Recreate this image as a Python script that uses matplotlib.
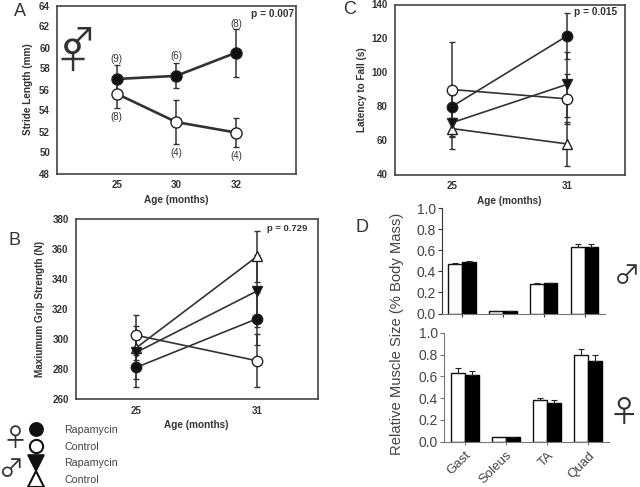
import matplotlib
matplotlib.use("Agg")
import matplotlib.pyplot as plt
from matplotlib.lines import Line2D
import numpy as np

plt.rcParams['font.family'] = ['Liberation Sans', 'DejaVu Sans']

W, H = 640, 487

# panel A
a_ages = ["25", "30", "32"]
a_rapa = [57.0, 57.3, 59.5]
a_rapa_err = [1.3, 1.2, 2.3]
a_ctrl = [55.6, 52.9, 51.9]
a_ctrl_err = [1.4, 2.1, 1.4]
a_rapa_n = ["(9)", "(6)", "(8)"]
a_rapa_n_y = [58.9, 59.2, 62.25]
a_ctrl_n = ["(8)", "(4)", "(4)"]
a_ctrl_n_y = [53.4, 50.0, 49.7]

# panels B and C
ages = ["25", "31"]
b_rapa_f = [281, 313.5]
b_rapa_f_err = [13, 17.5]
b_ctrl_f = [302.5, 285.5]
b_ctrl_f_err = [13.5, 17.5]
b_rapa_m = [291, 332]
b_rapa_m_err = [17.5, 24]
b_ctrl_m = [294, 355]
b_ctrl_m_err = [8, 17]

c_rapa_f = [80, 121.5]
c_rapa_f_err = [7, 13.5]
c_ctrl_f = [90, 84.5]
c_ctrl_f_err = [28, 14.5]
c_rapa_m = [70.5, 93]
c_rapa_m_err = [8, 19]
c_ctrl_m = [67, 58]
c_ctrl_m_err = [12, 13]

# panel D
muscles = ["Gast", "Soleus", "TA", "Quad"]
d_m_ctrl = [0.47, 0.025, 0.28, 0.635]
d_m_ctrl_err = [0.01, 0.003, 0.005, 0.02]
d_m_rapa = [0.49, 0.025, 0.285, 0.635]
d_m_rapa_err = [0.012, 0.003, 0.006, 0.025]
d_f_ctrl = [0.635, 0.04, 0.38, 0.80]
d_f_ctrl_err = [0.045, 0.003, 0.025, 0.05]
d_f_rapa = [0.615, 0.04, 0.36, 0.74]
d_f_rapa_err = [0.04, 0.003, 0.025, 0.06]

DARK = "#333333"
SYM = "Noto Sans CJK JP"


def px_axes(fig, left, top, right, bottom):
    return fig.add_axes([left / W, 1 - bottom / H, (right - left) / W, (bottom - top) / H])


def ptext(fig, x, y, s, **kw):
    kw.setdefault("ha", "center")
    kw.setdefault("va", "center")
    kw.setdefault("color", DARK)
    fig.text(x / W, 1 - y / H, s, **kw)


def series(ax, y, err, marker, face, lw=1.2, ms=7.5):
    x = np.arange(len(y))
    ax.errorbar(x, y, yerr=err, fmt="-", marker=marker, color=DARK, mfc=face, mec="#222222",
                mew=1.0, ms=ms, lw=lw, elinewidth=1.1, capsize=2.5, capthick=1.0)


def line_panel(ax, labels, ylim, yticks, ylabel, xlim, label_x):
    ax.set_xlim(*xlim)
    ax.set_ylim(*ylim)
    ax.set_xticks(range(len(labels)))
    ax.set_xticklabels(labels)
    ax.set_yticks(yticks)
    ax.tick_params(length=0, labelsize=7, labelcolor=DARK, pad=5)
    for lab in ax.get_xticklabels() + ax.get_yticklabels():
        lab.set_fontweight("bold")
    for s in ax.spines.values():
        s.set_color("#444444")
        s.set_linewidth(1.2)
    ax.set_ylabel(ylabel, fontsize=7.2, fontweight="bold", color=DARK)
    ax.yaxis.set_label_coords(label_x, 0.5)
    ax.set_xlabel("Age (months)", fontsize=7.2, fontweight="bold", color=DARK, labelpad=3)


def bar_panel(ax, ctrl, ctrl_err, rapa, rapa_err, xlim, show_labels, col):
    x = np.arange(len(muscles))
    w = 0.34
    ax.bar(x - w / 2, ctrl, w, color="white", edgecolor="#111111", lw=1.0,
           yerr=[np.zeros(4), ctrl_err], error_kw=dict(ecolor="#222222", elinewidth=0.8, capsize=2.2, capthick=0.8))
    ax.bar(x + w / 2, rapa, w, color="black", edgecolor="black", lw=1.0,
           yerr=[np.zeros(4), rapa_err], error_kw=dict(ecolor="#222222", elinewidth=0.8, capsize=2.2, capthick=0.8))
    ax.set_xlim(*xlim)
    ax.set_ylim(0, 1)
    ax.set_yticks(np.arange(0, 1.01, 0.2))
    ax.set_xticks(x)
    ax.spines["top"].set_visible(False)
    ax.spines["right"].set_visible(False)
    ax.spines["left"].set_color(col)
    ax.spines["bottom"].set_color("#777777")
    ax.tick_params(axis="y", labelsize=10, labelcolor="#444444", color=col, length=3, pad=1.5)
    ax.tick_params(axis="x", color=col, length=2)
    if show_labels:
        ax.set_xticklabels(muscles, rotation=45, ha="right", rotation_mode="anchor",
                           fontsize=9.5, color="#444444")
    else:
        ax.set_xticklabels([])


fig = plt.figure(figsize=(W / 100, H / 100), dpi=100)

# A
ax = px_axes(fig, 57, 5.5, 295.5, 173.5)
series(ax, a_rapa, a_rapa_err, "o", "#111111", lw=1.9, ms=8)
series(ax, a_ctrl, a_ctrl_err, "o", "white", lw=1.9, ms=8)
for i in range(3):
    ax.text(i, a_rapa_n_y[i], a_rapa_n[i], ha="center", va="center", fontsize=7, color=DARK)
    ax.text(i, a_ctrl_n_y[i], a_ctrl_n[i], ha="center", va="center", fontsize=7, color=DARK)
line_panel(ax, a_ages, (48, 64), np.arange(48, 65, 2), "Stride Length (mm)", (-1, 3), -24 / 238.5)
ax.text(0.995, 0.95, "p = 0.007", transform=ax.transAxes, ha="right", va="center",
        fontsize=7.3, fontweight="bold", color=DARK)

# C
ax = px_axes(fig, 394.5, 4.5, 624.5, 174.5)
series(ax, c_ctrl_f, c_ctrl_f_err, "o", "white")
series(ax, c_rapa_f, c_rapa_f_err, "o", "#111111")
series(ax, c_ctrl_m, c_ctrl_m_err, "^", "white")
series(ax, c_rapa_m, c_rapa_m_err, "v", "#111111")
line_panel(ax, ages, (40, 140), np.arange(40, 141, 20), "Latency to Fall (s)", (-0.5, 1.5), -27.5 / 230)
ax.text(0.97, 0.955, "p = 0.015", transform=ax.transAxes, ha="right", va="center",
        fontsize=7.3, fontweight="bold", color=DARK)

# B
ax = px_axes(fig, 75.5, 219, 317.5, 399)
series(ax, b_ctrl_m, b_ctrl_m_err, "^", "white")
series(ax, b_rapa_m, b_rapa_m_err, "v", "#111111")
series(ax, b_rapa_f, b_rapa_f_err, "o", "#111111")
series(ax, b_ctrl_f, b_ctrl_f_err, "o", "white")
line_panel(ax, ages, (260, 380), np.arange(260, 381, 20), "Maxiumum Grip Strength (N)", (-0.5, 1.5), -30.5 / 242)
ax.text(0.96, 0.95, "p = 0.729", transform=ax.transAxes, ha="right", va="center",
        fontsize=6.8, fontweight="bold", color=DARK)

# D
ax = px_axes(fig, 442, 208, 605, 313.5)
bar_panel(ax, d_m_ctrl, d_m_ctrl_err, d_m_rapa, d_m_rapa_err, (-0.48, 3.5), False, "#333333")
ax = px_axes(fig, 444, 333, 609, 441.7)
bar_panel(ax, d_f_ctrl, d_f_ctrl_err, d_f_rapa, d_f_rapa_err, (-0.51, 3.5), True, "#777777")
ptext(fig, 397, 334, "Relative Muscle Size (% Body Mass)", rotation=90, fontsize=10.6, color="#444444")

# panel letters and sex symbols
ptext(fig, 20, 12, "A", fontsize=13)
ptext(fig, 350, 10, "C", fontsize=13)
ptext(fig, 15, 241, "B", fontsize=13)
ptext(fig, 362, 228, "D", fontsize=13)
ptext(fig, 77.5, 43.4, "\u2642", fontsize=26, family=SYM)
ptext(fig, 72.3, 57.7, "\u2640", fontsize=26, family=SYM)
ptext(fig, 627, 276, "\u2642", fontsize=19, family=SYM)
ptext(fig, 624, 414, "\u2640", fontsize=22, family=SYM)
ptext(fig, 15, 439, "\u2640", fontsize=18, family=SYM)
ptext(fig, 11, 470, "\u2642", fontsize=18, family=SYM)

# legend
handles = [
    Line2D([], [], ls="", marker="o", ms=9.5, mfc="#111111", mec="#111111", mew=1.2),
    Line2D([], [], ls="", marker="o", ms=9.5, mfc="white", mec="#111111", mew=1.5),
    Line2D([], [], ls="", marker="v", ms=11, mfc="#111111", mec="#111111", mew=1.2),
    Line2D([], [], ls="", marker="^", ms=11, mfc="white", mec="#111111", mew=1.5),
]
fig.legend(handles, ["Rapamycin", "Control", "Rapamycin", "Control"], frameon=False, fontsize=7.7,
           labelcolor="#444444", loc="upper left", bbox_to_anchor=(29 / W, 1 - 425 / H),
           borderpad=0, borderaxespad=0, handlelength=1.4, handletextpad=1.9, labelspacing=0.62)

fig.savefig("out.png", dpi=100)
